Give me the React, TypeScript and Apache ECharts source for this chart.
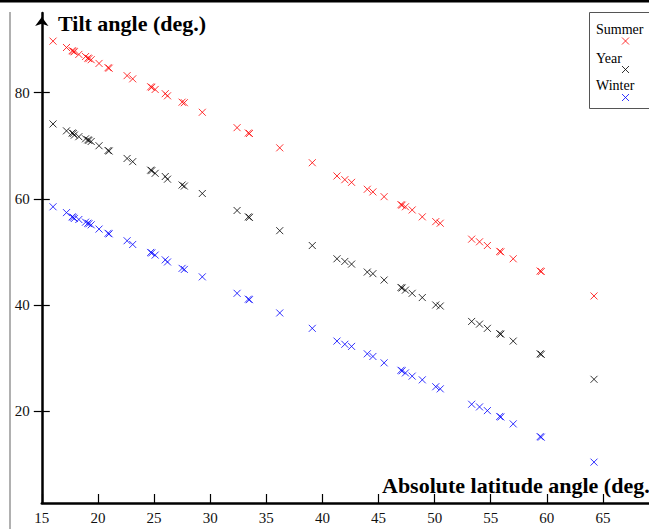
import React, { useEffect, useRef } from "react";
import * as echarts from "echarts";

const latitudes = [16.0, 17.2, 17.7, 17.8, 17.9, 18.3, 18.9, 19.1, 19.2, 19.4, 20.1, 20.9, 21.0, 22.6, 23.1, 24.7, 24.8, 25.1, 26.0, 26.2, 27.5, 27.7, 29.3, 32.4, 33.4, 33.5, 36.2, 39.1, 41.3, 42.0, 42.6, 44.0, 44.5, 45.5, 47.0, 47.1, 47.4, 48.0, 48.9, 50.1, 50.5, 53.3, 54.0, 54.7, 55.8, 55.9, 57.0, 59.4, 59.5, 64.2];
const summer = [89.7, 88.5, 87.9, 87.8, 87.7, 87.2, 86.8, 86.5, 86.4, 86.2, 85.5, 84.7, 84.6, 83.2, 82.6, 81.1, 81.0, 80.6, 79.8, 79.4, 78.2, 78.1, 76.3, 73.4, 72.4, 72.3, 69.6, 66.8, 64.3, 63.6, 63.1, 61.8, 61.3, 60.4, 58.9, 58.8, 58.5, 57.9, 56.6, 55.7, 55.4, 52.4, 51.9, 51.2, 50.1, 50.0, 48.7, 46.4, 46.3, 41.7];
const year = [74.1, 72.8, 72.4, 72.3, 72.0, 71.7, 71.3, 71.1, 71.0, 70.8, 70.0, 69.1, 69.0, 67.6, 67.0, 65.4, 65.3, 64.8, 64.2, 63.7, 62.6, 62.4, 61.0, 57.8, 56.6, 56.5, 54.0, 51.2, 48.7, 48.2, 47.7, 46.2, 45.9, 44.7, 43.3, 43.2, 42.8, 42.2, 41.4, 40.0, 39.8, 36.9, 36.4, 35.6, 34.6, 34.5, 33.2, 30.8, 30.7, 26.0];
const winter = [58.5, 57.4, 56.6, 56.5, 56.3, 56.1, 55.6, 55.4, 55.3, 55.1, 54.3, 53.5, 53.4, 52.1, 51.4, 49.9, 49.8, 49.4, 48.5, 48.1, 46.9, 46.7, 45.3, 42.2, 41.1, 41.0, 38.5, 35.6, 33.2, 32.6, 32.2, 30.8, 30.3, 29.1, 27.7, 27.6, 27.2, 26.6, 25.9, 24.6, 24.2, 21.3, 20.8, 20.1, 19.0, 18.9, 17.6, 15.2, 15.1, 10.4];

const xTicks = [15, 20, 25, 30, 35, 40, 45, 50, 55, 60, 65];
const yTicks = [20, 40, 60, 80];

const seriesNames = ["Summer", "Year", "Winter"];
const seriesColors = ["#ff0000", "#000000", "#0000ff"];

const FONT = '"Liberation Serif", "DejaVu Serif", serif';
const CROSS = "path://M0,0L10,10M10,0L0,10";

function cross(cx: number, cy: number, color: string) {
  const h = 3.5;
  return {
    type: "group",
    children: [
      { type: "line", shape: { x1: cx - h, y1: cy - h, x2: cx + h, y2: cy + h }, style: { stroke: color, lineWidth: 1, opacity: 0.8 } },
      { type: "line", shape: { x1: cx + h, y1: cy - h, x2: cx - h, y2: cy + h }, style: { stroke: color, lineWidth: 1, opacity: 0.8 } },
    ],
  };
}

export default function App() {
  const ref = useRef<HTMLDivElement>(null);
  useEffect(() => {
    if (!ref.current) return;
    const chart = echarts.init(ref.current, undefined, { renderer: "svg" });
    const values = [summer, year, winter];
    const option: any = {
      animation: false,
      backgroundColor: "#ffffff",
      grid: { left: 41.8, right: 0, top: 13, bottom: 26, containLabel: false },
      xAxis: {
        type: "value",
        min: 15,
        max: 69.1,
        splitLine: { show: false },
        axisLine: { show: true, lineStyle: { color: "#000", width: 2.5 } },
        axisTick: { show: true, inside: true, length: 9, lineStyle: { color: "#000", width: 1.2 }, customValues: xTicks },
        axisLabel: { show: true, margin: 7, color: "#111", fontFamily: FONT, fontSize: 15, customValues: xTicks },
      },
      yAxis: [
        {
          type: "value",
          position: "left",
          min: 2.7,
          max: 95,
          splitLine: { show: false },
          axisLine: {
            show: true,
            lineStyle: { color: "#000", width: 2.5 },
            symbol: ["none", "arrow"],
            symbolSize: [10, 9],
            symbolOffset: [0, -4],
          },
          axisTick: { show: true, inside: true, length: 8, lineStyle: { color: "#000", width: 1.2 }, customValues: yTicks },
          axisLabel: { show: true, margin: 12, color: "#111", fontFamily: FONT, fontSize: 15, customValues: yTicks },
        },
        {
          type: "value",
          position: "left",
          min: 2.7,
          max: 95,
          splitLine: { show: false },
          axisLine: { show: false },
          axisTick: { show: true, inside: false, length: 8, lineStyle: { color: "#000", width: 1.2 }, customValues: yTicks },
          axisLabel: { show: false },
        },
      ],
      series: seriesNames.map((name, i) => ({
        name,
        type: "scatter",
        yAxisIndex: 0,
        symbol: CROSS,
        symbolSize: 7,
        itemStyle: { color: "none", borderColor: seriesColors[i], borderWidth: 1, opacity: 0.8 },
        data: latitudes.map((lat, j) => [lat, values[i][j]]),
      })),
      graphic: [
        { type: "rect", shape: { x: 0, y: 0, width: 649, height: 2.5 }, style: { fill: "#000" } },
        { type: "rect", shape: { x: 9, y: 12, width: 2, height: 517 }, style: { fill: "#b0b0b0" } },
        {
          type: "text",
          x: 58,
          y: 23,
          style: { text: "Tilt angle (deg.)", font: `bold 22px ${FONT}`, fill: "#000", verticalAlign: "middle" },
        },
        {
          type: "text",
          x: 382,
          y: 485,
          style: { text: "Absolute latitude angle (deg.)", font: `bold 22px ${FONT}`, fill: "#000", verticalAlign: "middle" },
        },
        { type: "rect", shape: { x: 589.5, y: 12.5, width: 80, height: 96 }, style: { fill: "none", stroke: "#555", lineWidth: 1 } },
        { type: "text", x: 596, y: 29, style: { text: "Summer", font: `14px ${FONT}`, fill: "#000", verticalAlign: "middle" } },
        cross(625.5, 41, "#ff0000"),
        { type: "text", x: 596, y: 58, style: { text: "Year", font: `14px ${FONT}`, fill: "#000", verticalAlign: "middle" } },
        cross(625.5, 69.5, "#000000"),
        { type: "text", x: 596, y: 85, style: { text: "Winter", font: `14px ${FONT}`, fill: "#000", verticalAlign: "middle" } },
        cross(625.5, 97.5, "#0000ff"),
      ],
    };
    chart.setOption(option);
    return () => chart.dispose();
  }, []);
  return <div ref={ref} style={{ position: "absolute", left: 0, top: 0, width: 649, height: 529 }} />;
}
